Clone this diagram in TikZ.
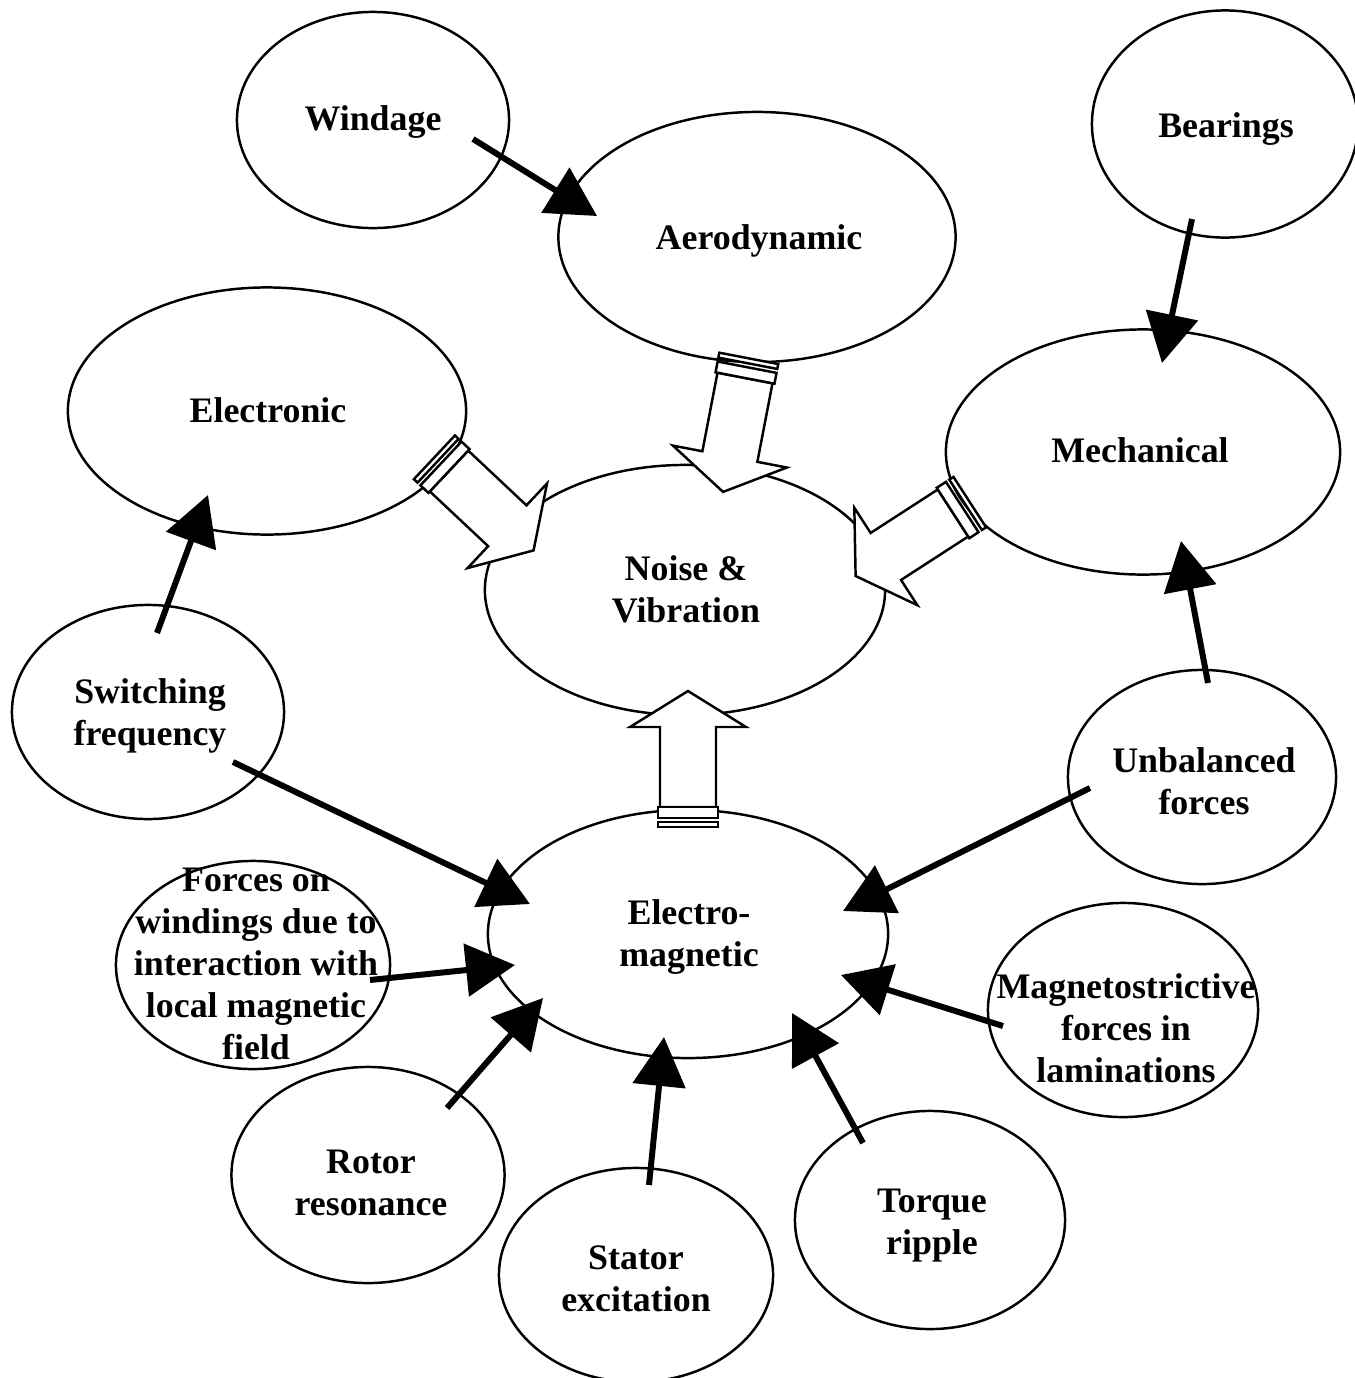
\documentclass[tikz,border=0pt]{standalone}
\usepackage{fontspec}
\setmainfont{Liberation Serif}
\usetikzlibrary{shapes.geometric,arrows.meta}

\tikzset{
  bubble/.style={draw, ellipse, line width=0.7pt, inner sep=0pt},
  lbl/.style={font=\fontsize{10.2}{11.9}\selectfont\bfseries, align=center, inner sep=0pt, anchor=base},
  feed/.style={line width=1.7pt, -{Triangle[length=4.9mm,width=5.2mm]}},
  hollow/.style={draw, fill=white, line width=0.7pt, line join=miter},
  pics/flowarrow/.style={code={
    \draw[hollow] (0,-28) -- (80,-28) -- (80,-58) -- (116,0) -- (80,58) -- (80,28) -- (0,28) -- cycle;
    \draw[hollow] (-11,-30) rectangle (0,30);
    \draw[hollow] (-20,-30) rectangle (-15,30);
  }}
}

\begin{document}
\begin{tikzpicture}[x=0.01cm,y=-0.01cm]
\useasboundingbox (0,0) rectangle (1355,1378);

% outlines of the source bubbles
\node[bubble, minimum width=2.72cm, minimum height=2.16cm] (windage)    at (373,120)  {};
\node[bubble, minimum width=3.97cm, minimum height=2.50cm] (aero)       at (757,237)  {};
\node[bubble, minimum width=2.66cm, minimum height=2.27cm] (bearings)   at (1225,124) {};
\node[bubble, minimum width=3.98cm, minimum height=2.47cm] (electronic) at (267,411)  {};
\node[bubble, minimum width=3.94cm, minimum height=2.45cm] (mechanical) at (1143,452) {};
\node[bubble, minimum width=4.00cm, minimum height=2.50cm] (noise)      at (685,590)  {};
\node[bubble, minimum width=2.72cm, minimum height=2.14cm] (switching)  at (148,712)  {};
\node[bubble, minimum width=2.68cm, minimum height=2.14cm] (unbalanced) at (1202,777) {};
\node[bubble, minimum width=4.00cm, minimum height=2.48cm] (em)         at (688,934)  {};
\node[bubble, minimum width=2.74cm, minimum height=2.08cm] (forces)     at (253,965)  {};
\node[bubble, minimum width=2.70cm, minimum height=2.14cm] (magneto)    at (1123,1010){};
\node[bubble, minimum width=2.73cm, minimum height=2.16cm] (rotor)      at (368,1175) {};
\node[bubble, minimum width=2.74cm, minimum height=2.14cm] (stator)     at (636,1275) {};
\node[bubble, minimum width=2.70cm, minimum height=2.18cm] (torque)     at (930,1220) {};

% labels (anchored on the baseline of the last line)
\node[lbl] (windage-l)    at (373,130)  {Windage};
\node[lbl] (aero-l)       at (759,249)  {Aerodynamic};
\node[lbl] (bearings-l)   at (1226,137) {Bearings};
\node[lbl] (electronic-l) at (268,422)  {Electronic};
\node[lbl] (mechanical-l) at (1140,462) {Mechanical};
\node[lbl] (noise-l)      at (686,622)  {Noise \&\\Vibration};
\node[lbl] (switching-l)  at (150,745)  {Switching\\frequency};
\node[lbl] (unbalanced-l) at (1204,814) {Unbalanced\\forces};
\node[lbl] (em-l)         at (689,966)  {Electro-\\magnetic};
\node[lbl] (forces-l)     at (256,1059) {Forces on\\windings due to\\interaction with\\local magnetic\\field};
\node[lbl] (magneto-l)    at (1126,1082){Magnetostrictive\\forces in\\laminations};
\node[lbl] (rotor-l)      at (371,1215) {Rotor\\resonance};
\node[lbl] (stator-l)     at (636,1311) {Stator\\excitation};
\node[lbl] (torque-l)     at (932,1254) {Torque\\ripple};

% hollow flow arrows into the central bubble
\pic[rotate=-100.9] at (745,378) {flowarrow};
\pic[rotate=-43.2]  at (449,471) {flowarrow};
\pic[rotate=-147.1] at (953,513) {flowarrow};
\pic[rotate=90]     at (688,807) {flowarrow};

% end points of the solid feed arrows
\coordinate (windage-o)    at (473,139);
\coordinate (aero-i)       at (597,216);
\coordinate (bearings-o)   at (1192,219);
\coordinate (mechanical-i) at (1162,363);
\coordinate (switching-o1) at (157,633);
\coordinate (electronic-i) at (208,495);
\coordinate (unbalanced-o1) at (1208,683);
\coordinate (mechanical-i2) at (1181,541);
\coordinate (switching-o2) at (233,762);
\coordinate (em-i1)        at (530,904);
\coordinate (unbalanced-o2) at (1090,788);
\coordinate (em-i2)        at (843,911);
\coordinate (forces-o)     at (370,980);
\coordinate (em-i3)        at (515,965);
\coordinate (rotor-o)      at (447,1108);
\coordinate (em-i4)        at (543,998);
\coordinate (stator-o)     at (649,1185);
\coordinate (em-i5)        at (664,1037);
\coordinate (torque-o)     at (863,1143);
\coordinate (em-i6)        at (792,1013);
\coordinate (magneto-o)    at (1003,1026);
\coordinate (em-i7)        at (841,975);

\draw[feed] (windage-o) -- (aero-i);
\draw[feed] (bearings-o) -- (mechanical-i);
\draw[feed] (switching-o1) -- (electronic-i);
\draw[feed] (unbalanced-o1) -- (mechanical-i2);
\draw[feed] (switching-o2) -- (em-i1);
\draw[feed] (unbalanced-o2) -- (em-i2);
\draw[feed] (forces-o) -- (em-i3);
\draw[feed] (rotor-o) -- (em-i4);
\draw[feed] (stator-o) -- (em-i5);
\draw[feed] (torque-o) -- (em-i6);
\draw[feed] (magneto-o) -- (em-i7);
\end{tikzpicture}
\end{document}
